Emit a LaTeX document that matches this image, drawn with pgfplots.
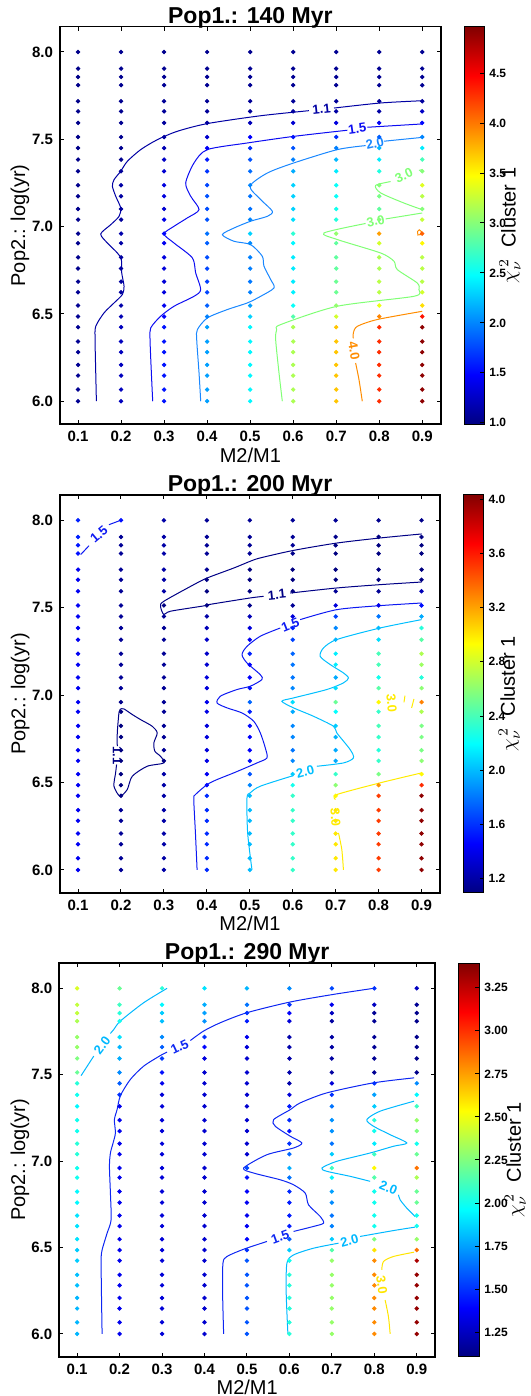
\documentclass[border=0pt]{standalone}
\usepackage{fontspec}
\setmainfont{Liberation Sans}
\usepackage{pgfplots}
\pgfplotsset{compat=1.18}
\usepackage{pgfplotstable}

% contour colours
\definecolor{pAa}{rgb}{0,0,0.64}
\definecolor{pAb}{rgb}{0.05,0.05,0.95}
\definecolor{pAc}{rgb}{0.1,0.53,1}
\definecolor{pAd}{rgb}{0.5,1,0.46}
\definecolor{pAe}{rgb}{1,0.55,0}
\definecolor{pBa}{rgb}{0,0,0.52}
\definecolor{pBb}{rgb}{0.05,0.1,0.95}
\definecolor{pBc}{rgb}{0,0.75,1}
\definecolor{pBd}{rgb}{1,0.92,0}
\definecolor{pCb}{rgb}{0.05,0.15,0.95}
\definecolor{pCc}{rgb}{0,0.72,1}
\definecolor{pCd}{rgb}{1,0.9,0}

\pgfplotstableread{
y a b c d e f g h i
8.000 1.02 1.04 1.04 1.04 1.04 1.05 1.05 1.05 1.05
7.905 1.02 1.04 1.05 1.05 1.05 1.05 1.05 1.05 1.05
7.857 1.02 1.04 1.05 1.05 1.05 1.05 1.05 1.05 1.05
7.810 1.02 1.04 1.06 1.05 1.05 1.05 1.05 1.05 1.05
7.718 1.02 1.04 1.07 1.06 1.07 1.07 1.08 1.08 1.10
7.660 1.02 1.04 1.08 1.08 1.09 1.10 1.12 1.12 1.25
7.594 1.02 1.04 1.09 1.10 1.20 1.30 1.35 1.45 1.50
7.513 1.02 1.04 1.11 1.28 1.48 1.55 1.65 1.85 2.00
7.450 1.02 1.04 1.18 1.45 1.65 1.80 1.98 2.20 2.40
7.384 1.02 1.04 1.25 1.58 1.80 1.98 2.20 2.40 2.75
7.317 1.03 1.08 1.30 1.68 1.90 2.15 2.40 2.60 3.00
7.237 1.03 1.12 1.35 1.75 2.00 2.30 2.50 3.00 3.35
7.174 1.03 1.11 1.35 1.80 1.93 2.30 2.50 2.95 3.20
7.101 1.03 1.10 1.30 1.78 1.92 2.30 2.55 2.85 3.00
7.040 1.03 1.09 1.38 1.80 2.00 2.35 2.60 3.00 3.25
6.960 1.03 1.15 1.50 1.92 2.30 2.65 3.05 3.85 4.10
6.905 1.03 1.12 1.42 1.85 2.02 2.45 2.85 3.30 3.50
6.824 1.03 1.10 1.35 1.78 1.98 2.40 2.85 3.15 3.20
6.760 1.03 1.10 1.33 1.75 1.97 2.40 2.85 3.15 3.20
6.685 1.03 1.10 1.32 1.72 1.95 2.40 2.90 3.20 3.20
6.624 1.05 1.10 1.35 1.75 1.98 2.42 2.90 3.20 3.30
6.548 1.05 1.14 1.42 1.85 2.10 2.50 3.05 3.40 3.60
6.485 1.05 1.18 1.48 1.98 2.30 2.80 3.30 3.95 4.40
6.424 1.05 1.22 1.55 2.10 2.45 3.15 3.70 4.30 4.92
6.342 1.05 1.22 1.55 2.10 2.45 3.15 3.70 4.30 4.92
6.281 1.05 1.22 1.55 2.10 2.45 3.15 3.70 4.30 4.92
6.208 1.05 1.22 1.55 2.10 2.45 3.15 3.70 4.30 4.92
6.147 1.05 1.22 1.55 2.10 2.45 3.15 3.70 4.30 4.92
6.067 1.05 1.22 1.55 2.10 2.45 3.15 3.70 4.30 4.92
6.000 1.05 1.22 1.55 2.10 2.45 3.15 3.70 4.30 4.92
}\tA

\pgfplotstableread{
y a b c d e f g h i
8.000 1.55 1.50 1.20 1.15 1.15 1.15 1.15 1.13 1.12
7.905 1.55 1.15 1.20 1.15 1.15 1.15 1.12 1.10 1.10
7.857 1.52 1.15 1.20 1.15 1.15 1.15 1.10 1.09 1.09
7.810 1.50 1.15 1.20 1.15 1.15 1.12 1.09 1.09 1.09
7.718 1.42 1.15 1.20 1.15 1.09 1.09 1.09 1.09 1.09
7.660 1.42 1.15 1.20 1.10 1.09 1.09 1.09 1.09 1.10
7.594 1.42 1.15 1.20 1.09 1.09 1.09 1.15 1.15 1.25
7.513 1.42 1.15 1.10 1.10 1.12 1.15 1.35 1.40 1.50
7.450 1.42 1.15 1.15 1.20 1.25 1.35 1.65 1.80 1.95
7.384 1.42 1.15 1.15 1.25 1.35 1.55 1.85 2.00 2.30
7.317 1.42 1.15 1.15 1.30 1.42 1.65 1.98 2.10 2.45
7.237 1.42 1.15 1.15 1.30 1.55 1.75 2.15 2.40 2.70
7.174 1.42 1.15 1.15 1.32 1.45 1.80 2.15 2.40 2.65
7.101 1.42 1.15 1.15 1.35 1.45 1.80 1.95 2.25 2.30
7.040 1.42 1.15 1.15 1.35 1.50 1.85 2.10 2.45 2.60
6.960 1.42 1.12 1.15 1.40 1.75 2.10 2.50 2.95 3.30
6.905 1.42 1.09 1.15 1.38 1.55 1.95 2.20 2.35 2.70
6.824 1.42 1.09 1.15 1.35 1.48 1.85 2.05 2.40 2.55
6.760 1.42 1.09 1.15 1.35 1.45 1.85 1.98 2.35 2.55
6.685 1.42 1.09 1.15 1.35 1.45 1.80 1.95 2.30 2.55
6.624 1.42 1.09 1.10 1.38 1.50 1.85 1.95 2.35 2.60
6.548 1.42 1.09 1.20 1.42 1.70 2.05 2.35 2.55 2.95
6.485 1.42 1.09 1.20 1.48 1.85 2.25 2.60 3.25 3.55
6.424 1.42 1.10 1.20 1.58 2.00 2.35 2.95 3.50 4.00
6.342 1.42 1.15 1.20 1.58 2.00 2.35 3.00 3.50 4.00
6.281 1.42 1.15 1.20 1.58 2.00 2.35 3.00 3.50 4.00
6.208 1.42 1.15 1.20 1.58 2.00 2.35 3.00 3.50 4.00
6.147 1.42 1.15 1.20 1.58 2.00 2.35 3.00 3.50 4.00
6.067 1.42 1.15 1.20 1.58 2.00 2.35 3.00 3.50 4.00
6.000 1.42 1.15 1.20 1.58 2.00 2.35 3.00 3.50 4.00
}\tB

\pgfplotstableread{
y a b c d e f g h i
8.000 2.45 2.20 2.05 1.90 1.80 1.70 1.55 1.50 1.25
7.905 2.40 2.10 1.95 1.78 1.65 1.50 1.35 1.25 1.15
7.857 2.40 2.05 1.85 1.75 1.50 1.38 1.25 1.15 1.13
7.810 2.35 2.00 1.82 1.72 1.45 1.30 1.18 1.15 1.13
7.718 2.30 1.90 1.70 1.50 1.35 1.20 1.18 1.15 1.13
7.660 2.30 1.80 1.60 1.40 1.30 1.20 1.18 1.15 1.13
7.594 2.25 1.78 1.52 1.32 1.28 1.20 1.18 1.15 1.13
7.513 2.20 1.70 1.42 1.28 1.28 1.20 1.18 1.15 1.13
7.450 2.05 1.60 1.35 1.28 1.28 1.20 1.30 1.50 1.70
7.384 2.00 1.50 1.30 1.28 1.28 1.30 1.50 1.75 1.95
7.317 1.95 1.35 1.30 1.28 1.28 1.45 1.65 1.85 2.10
7.237 2.00 1.35 1.30 1.28 1.28 1.48 1.72 2.05 2.30
7.174 2.00 1.35 1.30 1.28 1.28 1.42 1.72 2.00 2.25
7.101 2.05 1.35 1.30 1.28 1.28 1.50 1.65 1.92 2.00
7.040 2.05 1.35 1.30 1.28 1.28 1.62 1.85 2.10 2.20
6.960 2.00 1.35 1.30 1.28 1.55 1.78 2.10 2.55 2.85
6.905 2.00 1.35 1.30 1.28 1.42 1.65 1.95 2.15 2.35
6.824 1.95 1.35 1.30 1.28 1.38 1.48 1.75 2.00 2.20
6.760 1.95 1.35 1.30 1.28 1.36 1.45 1.70 2.00 2.20
6.685 1.90 1.35 1.30 1.28 1.35 1.45 1.65 2.00 2.00
6.624 1.90 1.35 1.30 1.28 1.36 1.45 1.68 2.00 2.00
6.548 1.90 1.35 1.30 1.28 1.40 1.60 1.85 2.25 2.30
6.485 1.85 1.35 1.30 1.28 1.50 1.85 2.15 2.60 2.85
6.424 1.85 1.35 1.30 1.28 1.58 2.00 2.30 2.80 3.30
6.342 1.82 1.35 1.30 1.28 1.58 2.05 2.30 2.80 3.35
6.281 1.82 1.35 1.30 1.28 1.58 2.05 2.30 2.80 3.35
6.208 1.80 1.35 1.30 1.28 1.58 2.05 2.30 2.80 3.35
6.147 1.80 1.35 1.30 1.28 1.58 2.05 2.30 2.80 3.35
6.067 1.80 1.35 1.30 1.28 1.58 2.05 2.30 2.80 3.35
6.000 1.80 1.35 1.30 1.28 1.58 2.05 2.30 2.80 3.35
}\tC

\tikzset{
  clab/.style={font=\bfseries\fontsize{6.5}{7}\selectfont, text=#1, inner sep=0pt},
}
\pgfplotsset{
  dots/.style={scatter, only marks, mark=*, mark size=0.9pt,
    scatter/use mapped color={draw=mapped color, fill=mapped color},
    point meta=explicit},
  cl/.style={#1, line width=0.5pt, mark=none, smooth, tension=0.45},
  panel/.style={
    scale only axis,
    xmin=0.058, xmax=0.943, ymin=5.868, ymax=8.145,
    xtick={0.1,0.2,0.3,0.4,0.5,0.6,0.7,0.8,0.9},
    xticklabels={0.1,0.2,0.3,0.4,0.5,0.6,0.7,0.8,0.9},
    ytick={6.0,6.5,7.0,7.5,8.0},
    yticklabels={6.0,6.5,7.0,7.5,8.0},
    tick align=inside, major tick length=2pt,
    tick style={black, line width=0.5pt},
    axis line style={line width=0.8pt},
    ticklabel style={font=\bfseries\fontsize{7.5}{9}\selectfont},
    title style={font=\bfseries\fontsize{11.5}{13}\selectfont, at={(0.5,1)}, anchor=base, yshift=-4.2pt},
    xlabel={M2/M1},
    xlabel style={font=\fontsize{10}{12}\selectfont, at={(axis description cs:0.5,-0.077)}, anchor=center},
    ylabel={Pop2.: log(yr)},
    ylabel style={font=\fontsize{10}{12}\selectfont, at={(axis description cs:-0.105,0.5)}, anchor=center},
    colormap/jet,
    colorbar,
  },
  cbar/.style={
    at={(parent axis.north east)}, anchor=north west, xshift=3.26pt,
    width=10pt,
    tick align=inside, major tick length=2pt,
    ytick pos=right,
    axis line style={line width=0.5pt},
    yticklabel style={font=\bfseries\fontsize{6}{7}\selectfont, xshift=-1pt},
    ylabel={$\chi_\nu^{\,2}$\ \ Cluster 1},
    ylabel style={font=\fontsize{10}{12}\selectfont, at={(axis description cs:2.285,0.5)}, anchor=center},
  },
}

\begin{document}
\begin{tikzpicture}
\useasboundingbox (0,0) rectangle (265pt,698pt);

% ---------------- Panel 1 ----------------
\begin{axis}[panel,
  at={(30pt,485.85pt)}, anchor=south west, width=190.35pt, height=198.8pt,
  title={Pop1.: 140 Myr},
  point meta min=0.98, point meta max=4.97,
  colorbar style={cbar, ymin=0.985, ymax=4.965,
    ytick={1.0,1.5,2.0,2.5,3.0,3.5,4.0,4.5},
    yticklabels={1.0,1.5,2.0,2.5,3.0,3.5,4.0,4.5}},
]
\addplot[dots] table[x expr=0.1, y=y, meta=a] {\tA};
\addplot[dots] table[x expr=0.2, y=y, meta=b] {\tA};
\addplot[dots] table[x expr=0.3, y=y, meta=c] {\tA};
\addplot[dots] table[x expr=0.4, y=y, meta=d] {\tA};
\addplot[dots] table[x expr=0.5, y=y, meta=e] {\tA};
\addplot[dots] table[x expr=0.6, y=y, meta=f] {\tA};
\addplot[dots] table[x expr=0.7, y=y, meta=g] {\tA};
\addplot[dots] table[x expr=0.8, y=y, meta=h] {\tA};
\addplot[dots] table[x expr=0.9, y=y, meta=i] {\tA};
% 1.1
\addplot[cl=pAa] coordinates {(0.9,7.721) (0.8032,7.708) (0.6949,7.679)};
\addplot[cl=pAa] coordinates {(0.6368,7.664) (0.5245,7.635) (0.4005,7.590) (0.3308,7.546) (0.2844,7.498) (0.2456,7.441) (0.2146,7.374) (0.1991,7.317) (0.1837,7.269) (0.1798,7.231) (0.1875,7.174) (0.1991,7.107) (0.1953,7.059) (0.1759,7.011) (0.1527,6.958) (0.1682,6.906) (0.1914,6.849) (0.2007,6.811) (0.2015,6.735) (0.2069,6.658) (0.2030,6.611) (0.1837,6.563) (0.1604,6.506) (0.1411,6.429) (0.1395,6.353) (0.1411,6.162) (0.1426,6.0)};
\node[clab=pAa, rotate=6] at (axis cs:0.6659,7.672) {1.1};
% 1.5
\addplot[cl=pAb] coordinates {(0.9,7.588) (0.7724,7.569)};
\addplot[cl=pAb] coordinates {(0.7259,7.552) (0.6019,7.517) (0.4935,7.479) (0.4005,7.441) (0.3696,7.365) (0.3502,7.250) (0.3618,7.174) (0.3812,7.097) (0.3541,7.050) (0.3231,7.002) (0.2998,6.958) (0.3231,6.906) (0.3657,6.821) (0.3734,6.735) (0.3851,6.639) (0.3696,6.601) (0.3231,6.544) (0.2921,6.487) (0.2689,6.420) (0.2673,6.353) (0.2704,6.162) (0.2735,6.0)};
\node[clab=pAb, rotate=8] at (axis cs:0.7491,7.560) {1.5};
% 2.0
\addplot[cl=pAc] coordinates {(0.9,7.511) (0.8111,7.489)};
\addplot[cl=pAc] coordinates {(0.7685,7.464) (0.7026,7.441) (0.6019,7.365) (0.5400,7.307) (0.4997,7.231) (0.5245,7.155) (0.5516,7.088) (0.5400,7.059) (0.5012,7.031) (0.4625,6.992) (0.4354,6.954) (0.4625,6.916) (0.5012,6.897) (0.5283,6.830) (0.5322,6.773) (0.5477,6.697) (0.5555,6.649) (0.5245,6.601) (0.4935,6.563) (0.4470,6.525) (0.4005,6.477) (0.3773,6.410) (0.3758,6.353) (0.3812,6.162) (0.3851,6.0)};
\node[clab=pAc, rotate=13] at (axis cs:0.7898,7.477) {2.0};
% 3.0
\addplot[cl=pAd] coordinates {(0.9,7.326) (0.8924,7.322)};
\addplot[cl=pAd] coordinates {(0.8266,7.258) (0.7917,7.236) (0.8033,7.193) (0.8576,7.135) (0.9,7.097)};
\node[clab=pAd, rotate=25] at (axis cs:0.8576,7.293) {3.0};
\addplot[cl=pAd] coordinates {(0.9,7.078) (0.8150,7.044)};
\addplot[cl=pAd] coordinates {(0.7685,7.018) (0.6717,6.964) (0.7026,6.926) (0.8033,6.849) (0.8343,6.802) (0.8421,6.754) (0.8885,6.677) (0.8924,6.639) (0.8808,6.601) (0.7026,6.544) (0.5710,6.439) (0.5617,6.410) (0.5593,6.353) (0.5671,6.162) (0.5748,6.0)};
\node[clab=pAd, rotate=13] at (axis cs:0.7917,7.031) {3.0};
% 4.0
\addplot[cl=pAe] coordinates {(0.9,6.515) (0.7956,6.468) (0.7491,6.429) (0.7398,6.391) (0.7398,6.36)};
\addplot[cl=pAe] coordinates {(0.7452,6.219) (0.7530,6.124) (0.7607,6.0)};
\node[clab=pAe, rotate=-80] at (axis cs:0.7414,6.288) {4.0};
\addplot[pAe, line width=0.5pt, mark=none] coordinates {(0.889,6.972) (0.893,6.982) (0.898,6.972) (0.897,6.955) (0.890,6.952) (0.889,6.972)};
\end{axis}

% ---------------- Panel 2 ----------------
\begin{axis}[panel,
  at={(30pt,251.5pt)}, anchor=south west, width=190pt, height=199pt,
  title={Pop1.: 200 Myr},
  point meta min=1.09, point meta max=4.04,
  colorbar style={cbar, ymin=1.095, ymax=4.03,
    ytick={1.2,1.6,2.0,2.4,2.8,3.2,3.6,4.0},
    yticklabels={1.2,1.6,2.0,2.4,2.8,3.2,3.6,4.0}},
]
\addplot[dots] table[x expr=0.1, y=y, meta=a] {\tB};
\addplot[dots] table[x expr=0.2, y=y, meta=b] {\tB};
\addplot[dots] table[x expr=0.3, y=y, meta=c] {\tB};
\addplot[dots] table[x expr=0.4, y=y, meta=d] {\tB};
\addplot[dots] table[x expr=0.5, y=y, meta=e] {\tB};
\addplot[dots] table[x expr=0.6, y=y, meta=f] {\tB};
\addplot[dots] table[x expr=0.7, y=y, meta=g] {\tB};
\addplot[dots] table[x expr=0.8, y=y, meta=h] {\tB};
\addplot[dots] table[x expr=0.9, y=y, meta=i] {\tB};
% 1.1 upper
\addplot[cl=pBa] coordinates {(0.9,7.922) (0.8033,7.899) (0.7026,7.870) (0.6019,7.828) (0.5245,7.785) (0.5012,7.766) (0.4625,7.727) (0.4005,7.670) (0.3696,7.632) (0.2998,7.537) (0.2921,7.508) (0.2998,7.461) (0.3153,7.480) (0.3967,7.512) (0.4044,7.518) (0.5012,7.556) (0.5322,7.565)};
\addplot[cl=pBa] coordinates {(0.5942,7.584) (0.7026,7.613) (0.8033,7.632) (0.9,7.647)};
\node[clab=pBa, rotate=6] at (axis cs:0.5632,7.575) {1.1};
% 1.1 loop
\addplot[cl=pBa] coordinates {(0.1991,6.921) (0.1953,6.898) (0.1914,6.784) (0.1914,6.708)};
\addplot[cl=pBa] coordinates {(0.1898,6.603) (0.1875,6.555) (0.1837,6.479) (0.1976,6.422) (0.2146,6.460) (0.2263,6.536) (0.2611,6.593) (0.2998,6.612) (0.2921,6.650) (0.2789,6.679) (0.2766,6.727) (0.2844,6.784) (0.2727,6.822) (0.2456,6.860) (0.2263,6.889) (0.2069,6.921) (0.1991,6.921)};
\node[clab=pBa, rotate=-90] at (axis cs:0.1914,6.655) {1.1};
% 1.5 upper-left
\addplot[cl=pBb] coordinates {(0.1062,7.804) (0.1256,7.855)};
\addplot[cl=pBb] coordinates {(0.1720,7.975) (0.1991,8.0)};
\node[clab=pBb, rotate=40] at (axis cs:0.1488,7.918) {1.5};
% 1.5 main
\addplot[cl=pBb] coordinates {(0.9,7.527) (0.8033,7.512) (0.7026,7.489) (0.6174,7.432)};
\addplot[cl=pBb] coordinates {(0.5710,7.384) (0.5245,7.337) (0.4935,7.279) (0.4819,7.232) (0.4935,7.184) (0.5245,7.117) (0.5283,7.089) (0.5012,7.051) (0.4703,7.032) (0.4315,6.994) (0.4238,6.955) (0.4470,6.927) (0.4819,6.898) (0.5090,6.851) (0.5245,6.784) (0.5361,6.698) (0.5400,6.641) (0.5167,6.612) (0.4625,6.555) (0.4238,6.517) (0.4005,6.488) (0.3734,6.431) (0.3696,6.403) (0.3734,6.212) (0.3773,6.0)};
\node[clab=pBb, rotate=22] at (axis cs:0.5942,7.403) {1.5};
% 2.0
\addplot[cl=pBc] coordinates {(0.9,7.432) (0.8033,7.384) (0.7026,7.318) (0.6717,7.270) (0.6639,7.222) (0.6872,7.175) (0.7181,7.127) (0.7298,7.098) (0.7181,7.070) (0.6794,7.032) (0.6019,6.984) (0.5748,6.965) (0.6019,6.927) (0.6484,6.879) (0.6949,6.822) (0.7026,6.784) (0.7336,6.689) (0.7414,6.641) (0.7181,6.612) (0.6562,6.593)};
\addplot[cl=pBc] coordinates {(0.6019,6.540) (0.5245,6.479) (0.5012,6.441) (0.4935,6.412) (0.4950,6.212) (0.5051,6.0)};
\node[clab=pBc, rotate=15] at (axis cs:0.6291,6.562) {2.0};
% 3.0
\addplot[cl=pBd] coordinates {(0.9,6.555) (0.8033,6.498) (0.7026,6.431) (0.6996,6.403)};
\addplot[cl=pBd] coordinates {(0.7065,6.212) (0.7143,6.117) (0.7181,6.0)};
\node[clab=pBd, rotate=-85] at (axis cs:0.6996,6.300) {3.0};
\addplot[cl=pBd] coordinates {(0.8614,6.997) (0.8591,6.959)};
\addplot[cl=pBd] coordinates {(0.8769,6.927) (0.8823,6.978)};
\node[clab=pBd, rotate=-85] at (axis cs:0.8304,6.955) {3.0};
\end{axis}

% ---------------- Panel 3 ----------------
\begin{axis}[panel,
  at={(29.65pt,19.65pt)}, anchor=south west, width=187.85pt, height=196.7pt,
  title={Pop1.: 290 Myr},
  point meta min=1.105, point meta max=3.395,
  colorbar style={cbar, width=10.35pt, ymin=1.108, ymax=3.392,
    ytick={1.25,1.5,1.75,2.0,2.25,2.5,2.75,3.0,3.25},
    yticklabels={1.25,1.50,1.75,2.00,2.25,2.50,2.75,3.00,3.25},
    ylabel style={at={(axis description cs:2.74,0.5)}}},
]
\addplot[dots] table[x expr=0.1, y=y, meta=a] {\tC};
\addplot[dots] table[x expr=0.2, y=y, meta=b] {\tC};
\addplot[dots] table[x expr=0.3, y=y, meta=c] {\tC};
\addplot[dots] table[x expr=0.4, y=y, meta=d] {\tC};
\addplot[dots] table[x expr=0.5, y=y, meta=e] {\tC};
\addplot[dots] table[x expr=0.6, y=y, meta=f] {\tC};
\addplot[dots] table[x expr=0.7, y=y, meta=g] {\tC};
\addplot[dots] table[x expr=0.8, y=y, meta=h] {\tC};
\addplot[dots] table[x expr=0.9, y=y, meta=i] {\tC};
% 2.0 upper-left
\addplot[cl=pCc] coordinates {(0.3118,8.0) (0.2569,7.917) (0.2020,7.811) (0.1863,7.762) (0.1784,7.739)};
\addplot[cl=pCc] coordinates {(0.1392,7.608) (0.1094,7.495)};
\node[clab=pCc, rotate=53] at (axis cs:0.1588,7.669) {2.0};
% 1.5 main
\addplot[cl=pCb] coordinates {(0.7980,8.0) (0.7039,7.965) (0.6020,7.921) (0.5000,7.859) (0.4373,7.801) (0.3980,7.753) (0.3667,7.698)};
\addplot[cl=pCb] coordinates {(0.3118,7.631) (0.2961,7.611) (0.2569,7.550) (0.2255,7.473) (0.2020,7.379) (0.1941,7.298) (0.1878,7.240) (0.1902,7.163) (0.1847,7.105) (0.1784,7.047) (0.1761,6.970) (0.1784,6.815) (0.1800,6.660) (0.1706,6.583) (0.1588,6.486) (0.1565,6.428) (0.1573,6.235) (0.1588,6.0)};
\node[clab=pCb, rotate=25] at (axis cs:0.3416,7.660) {1.5};
% 1.5 right
\addplot[cl=pCb] coordinates {(0.8937,7.482) (0.7980,7.453) (0.6882,7.395) (0.6255,7.337) (0.6020,7.298) (0.5627,7.240) (0.5667,7.202) (0.6020,7.144) (0.6294,7.105) (0.6098,7.076) (0.5471,7.037) (0.4922,6.960) (0.5157,6.931) (0.5784,6.892) (0.6098,6.863) (0.6373,6.815) (0.6451,6.747) (0.6725,6.680) (0.6804,6.641) (0.6569,6.622) (0.6098,6.593)};
\addplot[cl=pCb] coordinates {(0.5471,6.535) (0.4922,6.490) (0.4529,6.448) (0.4435,6.409) (0.4427,6.235) (0.4451,6.0)};
\node[clab=pCb, rotate=20] at (axis cs:0.5784,6.562) {1.5};
% 2.0 right upper
\addplot[cl=pCc] coordinates {(0.8937,7.347) (0.8137,7.289) (0.7824,7.240) (0.7980,7.202) (0.8373,7.153) (0.8765,7.105) (0.8451,7.086) (0.7902,7.047) (0.7118,6.999) (0.6765,6.960) (0.6882,6.941) (0.7431,6.912) (0.7902,6.883)};
\addplot[cl=pCc] coordinates {(0.8569,6.805) (0.8608,6.776) (0.8765,6.728) (0.8961,6.680)};
\node[clab=pCc, rotate=-22] at (axis cs:0.8333,6.844) {2.0};
% 2.0 right lower
\addplot[cl=pCc] coordinates {(0.8961,6.618) (0.8451,6.598) (0.7667,6.564)};
\addplot[cl=pCc] coordinates {(0.7157,6.525) (0.6569,6.496) (0.6098,6.457) (0.5941,6.409) (0.5925,6.235) (0.5965,6.0)};
\node[clab=pCc, rotate=15] at (axis cs:0.7416,6.541) {2.0};
% 3.0
\addplot[cl=pCd] coordinates {(0.8937,6.473) (0.8451,6.448) (0.8216,6.419) (0.8176,6.370)};
\addplot[cl=pCd] coordinates {(0.8255,6.196) (0.8333,6.100) (0.8373,6.0)};
\node[clab=pCd, rotate=-82] at (axis cs:0.8176,6.283) {3.0};
\end{axis}
\end{tikzpicture}
\end{document}
